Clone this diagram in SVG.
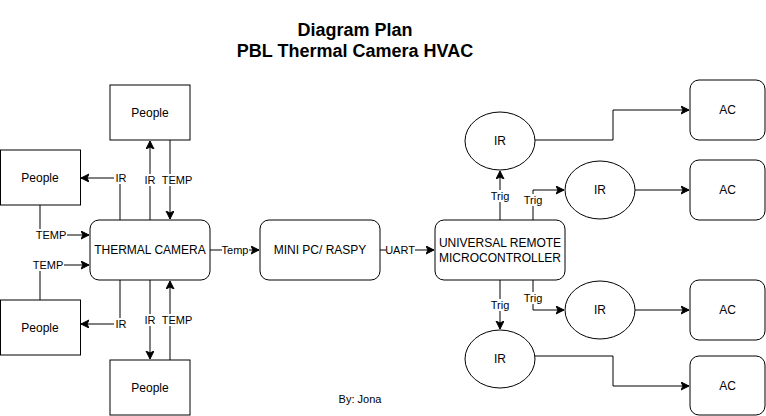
<svg xmlns="http://www.w3.org/2000/svg" width="766" height="416" viewBox="0 0 766 416">
<style>
.box{fill:#fff;stroke:#000;stroke-width:1}
.t{font-family:"Liberation Sans",Arial,sans-serif;font-size:12px;fill:#000;text-anchor:middle;dominant-baseline:central}
.l{font-family:"Liberation Sans",Arial,sans-serif;font-size:11px;fill:#000;text-anchor:middle;dominant-baseline:central}
.lb{fill:#fff}
.c{fill:none;stroke:#000;stroke-width:1}
.title{font-family:"Liberation Sans",Arial,sans-serif;font-size:18px;font-weight:bold;fill:#000;text-anchor:middle}
</style>
<defs>
<marker id="a" markerUnits="userSpaceOnUse" markerWidth="10" markerHeight="10" refX="8" refY="4" orient="auto">
<path d="M0,0 L8,4 L0,8 L2,4 z" fill="#000" stroke="#000" stroke-width="1"/>
</marker>
</defs>
<rect width="766" height="416" fill="#fff"/>
<g id="title">
<text class="title" x="355" y="36">Diagram Plan</text>
<text class="title" x="355" y="57">PBL Thermal Camera HVAC</text>
</g>
<g id="connectors">
<path class="c" d="M120,220 V178 H81" marker-end="url(#a)"/>
<path class="c" d="M150,220 V141" marker-end="url(#a)"/>
<path class="c" d="M170,140 V219" marker-end="url(#a)"/>
<path class="c" d="M40,205 V235 H89" marker-end="url(#a)"/>
<path class="c" d="M40,300 V265 H89" marker-end="url(#a)"/>
<path class="c" d="M120,280 V324 H81" marker-end="url(#a)"/>
<path class="c" d="M150,280 V359" marker-end="url(#a)"/>
<path class="c" d="M170,360 V281" marker-end="url(#a)"/>
<path class="c" d="M210,250 H259" marker-end="url(#a)"/>
<path class="c" d="M380,250 H434" marker-end="url(#a)"/>
<path class="c" d="M500,220 V171" marker-end="url(#a)"/>
<path class="c" d="M533,220 V190 H564" marker-end="url(#a)"/>
<path class="c" d="M500,280 V329" marker-end="url(#a)"/>
<path class="c" d="M533,280 V310 H564" marker-end="url(#a)"/>
<path class="c" d="M535,140 H613 V110 H689" marker-end="url(#a)"/>
<path class="c" d="M635,190 H689" marker-end="url(#a)"/>
<path class="c" d="M635,310 H689" marker-end="url(#a)"/>
<path class="c" d="M535,356 H613 V386 H689" marker-end="url(#a)"/>
<g id="labels">
<rect class="lb" x="114" y="172" width="14" height="12"/><text class="l" x="121" y="178">IR</text>
<rect class="lb" x="144" y="174" width="12" height="12"/><text class="l" x="150" y="180">IR</text>
<rect class="lb" x="162" y="174" width="31" height="12"/><text class="l" x="177" y="180">TEMP</text>
<rect class="lb" x="35" y="229" width="32" height="12"/><text class="l" x="51" y="235">TEMP</text>
<rect class="lb" x="32" y="259" width="32" height="12"/><text class="l" x="48" y="265">TEMP</text>
<rect class="lb" x="114" y="318" width="14" height="12"/><text class="l" x="121" y="324">IR</text>
<rect class="lb" x="144" y="314" width="12" height="12"/><text class="l" x="150" y="320">IR</text>
<rect class="lb" x="162" y="314" width="31" height="12"/><text class="l" x="177" y="320">TEMP</text>
<rect class="lb" x="222" y="244" width="27" height="12"/><text class="l" x="235" y="250">Temp</text>
<rect class="lb" x="386" y="244" width="29" height="12"/><text class="l" x="400" y="250">UART</text>
<rect class="lb" x="490" y="190" width="21" height="12"/><text class="l" x="500" y="196">Trig</text>
<rect class="lb" x="523" y="194" width="21" height="12"/><text class="l" x="533" y="200">Trig</text>
<rect class="lb" x="490" y="299" width="21" height="12"/><text class="l" x="500" y="305">Trig</text>
<rect class="lb" x="523" y="292" width="21" height="12"/><text class="l" x="533" y="298">Trig</text>
</g>
</g>
<g id="people-top"><rect class="box" x="110" y="85" width="80" height="55"/><text class="t" x="150" y="112.5">People</text></g>
<g id="people-left"><rect class="box" x="0.5" y="150" width="80" height="55"/><text class="t" x="40" y="177.5">People</text></g>
<g id="people-bottomleft"><rect class="box" x="0.5" y="300" width="80" height="55"/><text class="t" x="40" y="327.5">People</text></g>
<g id="people-bottom"><rect class="box" x="110" y="360" width="80" height="55"/><text class="t" x="150" y="387.5">People</text></g>
<g id="thermal-camera"><rect class="box" x="90" y="220" width="120" height="60" rx="9"/><text class="t" x="150" y="250">THERMAL CAMERA</text></g>
<g id="mini-pc"><rect class="box" x="260" y="220" width="120" height="60" rx="9"/><text class="t" x="320" y="250">MINI PC/ RASPY</text></g>
<g id="remote"><rect class="box" x="435" y="220" width="130" height="60" rx="9"/><text class="t" x="500" y="243">UNIVERSAL REMOTE</text><text class="t" x="500" y="258">MICROCONTROLLER</text></g>
<g id="ir-1"><ellipse class="box" cx="500" cy="141" rx="35" ry="29"/><text class="t" x="500" y="141">IR</text></g>
<g id="ir-2"><ellipse class="box" cx="600" cy="190" rx="35" ry="29"/><text class="t" x="600" y="190">IR</text></g>
<g id="ir-3"><ellipse class="box" cx="600" cy="310" rx="35" ry="29"/><text class="t" x="600" y="310">IR</text></g>
<g id="ir-4"><ellipse class="box" cx="500" cy="359" rx="35" ry="29"/><text class="t" x="500" y="359">IR</text></g>
<g id="ac-1"><rect class="box" x="690" y="80" width="75" height="60" rx="9"/><text class="t" x="727.5" y="110">AC</text></g>
<g id="ac-2"><rect class="box" x="690" y="160" width="75" height="60" rx="9"/><text class="t" x="727.5" y="190">AC</text></g>
<g id="ac-3"><rect class="box" x="690" y="280" width="75" height="60" rx="9"/><text class="t" x="727.5" y="310">AC</text></g>
<g id="ac-4"><rect class="box" x="690" y="356" width="75" height="59" rx="9"/><text class="t" x="727.5" y="386">AC</text></g>
<g id="credit"><text class="l" x="360" y="399">By: Jona</text></g>
</svg>
